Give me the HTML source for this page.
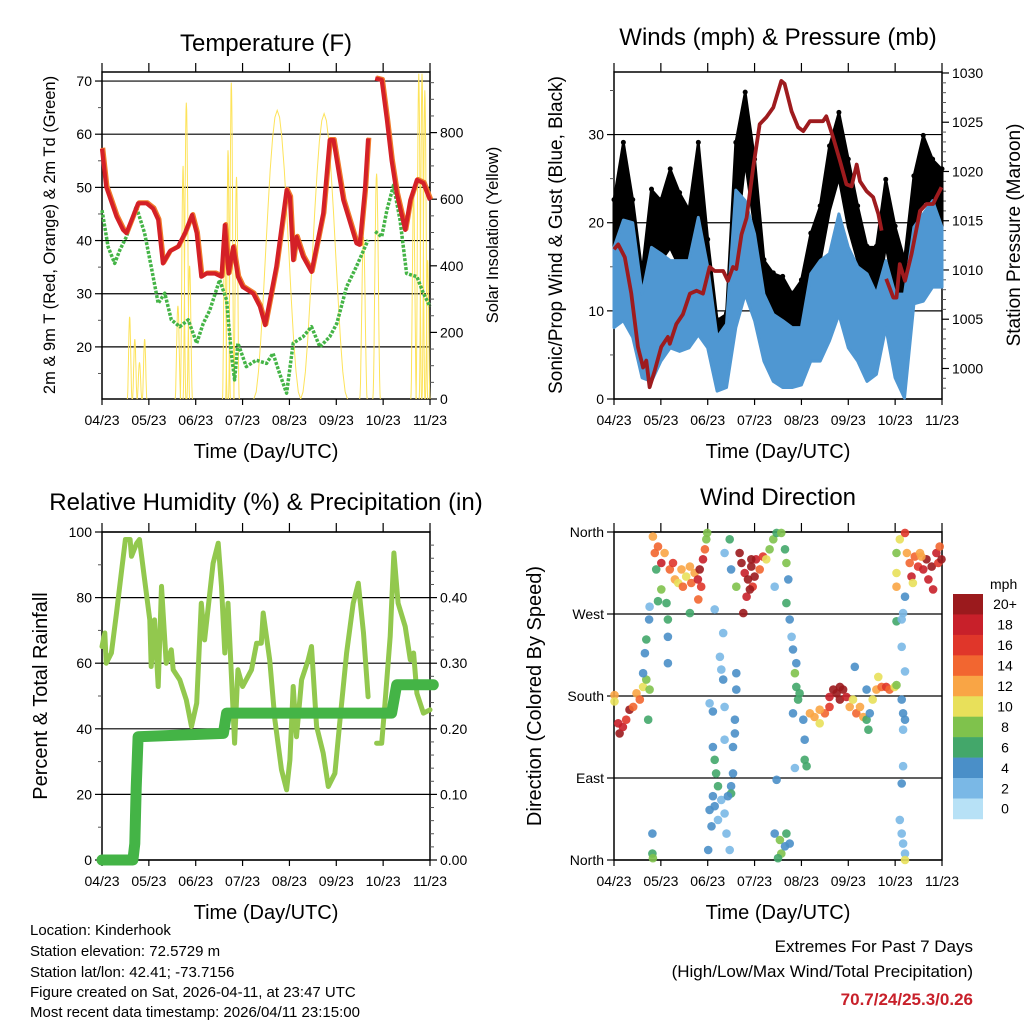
<!DOCTYPE html>
<html><head><meta charset="utf-8">
<style>
body{margin:0;background:#fff;}
svg{display:block;font-family:"Liberation Sans",sans-serif;}
</style></head>
<body>
<svg id="c" width="1024" height="1024" viewBox="0 0 1024 1024" xmlns="http://www.w3.org/2000/svg">
<rect width="1024" height="1024" fill="#fff"/>
<text x="266" y="51" font-size="24" text-anchor="middle">Temperature (F)</text>
<text transform="translate(55,235) rotate(-90)" font-size="16.5" text-anchor="middle">2m &amp; 9m T (Red, Orange) &amp; 2m Td (Green)</text>
<text transform="translate(498,235) rotate(-90)" font-size="16.5" text-anchor="middle">Solar Insolation (Yellow)</text>
<text x="266" y="458" font-size="20" text-anchor="middle">Time (Day/UTC)</text>

<text x="778" y="45" font-size="24" text-anchor="middle">Winds (mph) &amp; Pressure (mb)</text>
<text transform="translate(562,235) rotate(-90)" font-size="19" text-anchor="middle">Sonic/Prop Wind &amp; Gust (Blue, Black)</text>
<text transform="translate(1020,235) rotate(-90)" font-size="19" text-anchor="middle">Station Pressure (Maroon)</text>
<text x="778" y="458" font-size="20" text-anchor="middle">Time (Day/UTC)</text>

<text x="266" y="510" font-size="24" text-anchor="middle">Relative Humidity (%) &amp; Precipitation (in)</text>
<text transform="translate(47,696) rotate(-90)" font-size="20" text-anchor="middle">Percent &amp; Total Rainfall</text>
<text x="266" y="919" font-size="20" text-anchor="middle">Time (Day/UTC)</text>

<text x="778" y="505" font-size="24" text-anchor="middle">Wind Direction</text>
<text transform="translate(541,696) rotate(-90)" font-size="20" text-anchor="middle">Direction (Colored By Speed)</text>
<text x="778" y="919" font-size="20" text-anchor="middle">Time (Day/UTC)</text>

<g font-size="15">
<text x="30" y="935">Location: Kinderhook</text>
<text x="30" y="956">Station elevation: 72.5729 m</text>
<text x="30" y="977">Station lat/lon: 42.41; -73.7156</text>
<text x="30" y="997">Figure created on Sat, 2026-04-11, at 23:47 UTC</text>
<text x="30" y="1017">Most recent data timestamp: 2026/04/11 23:15:00</text>
</g>
<text x="973" y="952" font-size="17" text-anchor="end">Extremes For Past 7 Days</text>
<text x="973" y="977" font-size="17" text-anchor="end">(High/Low/Max Wind/Total Precipitation)</text>
<text x="973" y="1005" font-size="17" font-weight="bold" fill="#c8202a" text-anchor="end">70.7/24/25.3/0.26</text>
<g id="layer"></g>
</svg>
<script>
// ---------- DATA ----------
const monthLabels=["04/23","05/23","06/23","07/23","08/23","09/23","10/23","11/23"];
const tempT=[0,.09,.31,.45,.52,.66,.77,.95,1.09,1.2,1.3,1.45,1.62,1.77,1.92,2.02,2.12,2.23,2.41,2.55,2.62,2.7,2.8,2.9,3.0,3.23,3.37,3.48,3.72,3.94,4.01,4.08,4.15,4.29,4.47,4.72,4.86,4.94,5.15,5.43,5.5,5.61,5.68,null,5.83,5.97,6.08,6.18,6.29,6.47,6.58,6.72,6.86,7];
const tempV=[57.3,50.1,44.5,42,41.4,44.5,47,47,46,43.9,35.7,38,38.8,41.4,44.8,41.4,33.2,33.8,33.8,33.2,42.9,33.8,38.8,33.2,31.3,30,27.6,24.1,35.1,49.5,48.2,36.3,40.7,37,34.1,45.1,58.9,58.9,47.6,39.5,39.2,49.5,59.2,null,70.5,70.2,62.7,55.1,48.9,42,47.6,51.4,50.8,47.6];
const dewT=[0,.13,.27,.38,.52,.73,.91,1.05,1.2,1.34,1.48,1.66,1.84,2.02,2.16,2.3,2.51,2.66,2.76,2.83,2.9,3.08,3.29,3.51,3.65,3.79,3.94,4.08,4.29,4.47,4.65,4.86,5.01,5.22,5.43,5.68,null,5.83,5.97,6.08,6.22,6.36,6.5,6.72,6.86,7];
const dewV=[45.7,38.8,35.7,38.2,40.7,46.4,41.4,35.1,28.2,30.1,25.1,23.8,25.1,20.7,24.4,26.9,32.6,28.8,18.8,13.8,20.7,16.3,17.5,16.9,18.8,15,11.3,20.7,21.9,23.8,20,21.9,24.4,31.3,35.1,40.1,null,41.7,40.7,45.7,50.4,43.9,33.8,33.2,30.1,27.6];
const solarT=[.59,.7,.8,.91,1.62,1.73,1.8,1.87,2.62,2.69,2.76,2.87,3.74,4.74,5.58,5.86,6.65,6.76,6.83,6.89,6.95];
const solarPeak=[247,180,110,180,280,700,890,400,527,747,950,667,867,857,487,677,617,977,977,927,417];
const solarHalfW=[.05,.05,.05,.05,.06,.06,.07,.06,.05,.05,.06,.06,.5,.5,.08,.08,.06,.06,.06,.06,.05];
const presT=[0,.09,.23,.37,.51,.62,.69,.76,.87,1.01,1.15,1.19,1.33,1.47,1.62,1.76,1.9,2.04,2.15,2.33,2.43,2.54,2.61,2.72,2.83,2.97,3.11,3.25,3.4,3.57,3.64,3.79,3.93,4.04,4.18,4.32,4.46,4.53,4.68,4.82,4.96,5.07,5.18,5.25,5.39,5.53,5.64,5.71,null,5.81,5.96,6.03,6.1,6.21,6.35,6.53,6.67,6.81,6.88,6.99];
const presV=[1012.1,1012.6,1011.3,1007.6,1002.2,1000.1,1000.8,998.1,999.8,1002.2,1003.2,1002.5,1004.5,1005.5,1007.6,1007.9,1007.6,1010.3,1009.9,1009.9,1008.9,1010.3,1010.1,1013.6,1015.3,1020.4,1024.8,1025.5,1026.5,1029.2,1028.9,1026.1,1024.5,1024.1,1025.1,1025.1,1025.1,1025.6,1023.4,1021.1,1018.7,1018.5,1020.7,1019,1018,1017.4,1015.7,1014,null,1009.1,1007.2,1007.2,1010.6,1008.9,1011.6,1016,1016.7,1016.7,1017.4,1018.4];
const windT=[0,.2,.4,.6,.8,1,1.2,1.4,1.6,1.8,2,2.2,2.4,2.6,2.8,3,3.2,3.4,3.6,3.8,4,4.2,4.4,4.6,4.8,5,5.2,5.4,5.6,5.8,6,6.2,6.4,6.6,6.8,7];
const gustHigh=[22.5,29,22.5,14.2,23.7,22.5,26,23.3,21.4,29,18,8.9,9.6,29,34.7,27.1,15.7,14.2,13.8,11.9,13.4,18.7,21.8,28.6,32.4,27.1,21.8,17.2,17.2,24.8,19.5,15.7,25.2,29.8,27.1,26];
const gustLow=[11.9,19.5,15.7,9.6,15.7,15.7,17.2,15,13.8,22.2,11.9,4.3,5.1,17.6,27.1,19.5,11.1,9.6,8.9,7.3,8.1,11.9,15.7,21.4,25.2,19.5,15.7,11.9,10.4,17.6,11.9,8.1,18.4,22.5,21.8,19.5];
const windHigh=[17.2,20.3,20,11.9,17.2,16.5,15.7,15.7,15.7,20.6,15,7,8.5,23.7,22.5,18.7,11.9,9.6,8.9,8.1,8.1,14.2,15.7,16.5,21,17.2,15,14.2,11.9,15.7,11.9,11.9,19.5,21,22.5,19.5];
const windLow=[8.1,8.9,7,2.4,2,4.3,5.8,5.4,5.8,7.3,5.8,.9,1.3,8.1,11.9,8.9,4.3,2,1.3,1.3,1.6,4.3,4.3,6.6,9.6,5.8,4.3,2,2.8,8.1,2.4,.1,10.8,11.1,12.7,12.7];
const rhT=[0,.06,.09,.2,.31,.42,.5,.6,.63,.74,.8,.91,1.02,1.05,1.12,1.2,1.27,1.37,1.48,1.52,1.66,1.8,1.91,2.02,2.12,2.19,2.37,2.48,2.55,2.62,2.69,2.83,2.9,3.0,3.19,3.3,3.4,3.44,3.58,3.69,3.83,3.94,4.01,4.08,4.15,4.26,4.4,4.47,4.58,4.72,4.83,4.97,5.08,5.22,5.36,5.47,5.58,5.68,null,5.86,5.97,6.04,6.15,6.23,6.32,6.47,6.58,6.65,6.72,6.86,7];
const rhV=[65.1,69.2,60,63.1,75.3,88.5,97.7,97.7,92.6,96.6,97.7,85.5,73.2,59,73.2,52.9,83.4,60,64.1,58,54.9,48.8,40.7,47.8,78.3,67.1,90.5,96.6,83.4,63.1,78.3,35.6,58,52.9,58,66.1,66.1,75.3,61,42.7,27.5,21.4,30.5,52.9,37.6,54.9,61,65.1,40.7,32.6,22.4,26.4,42.7,63.1,78.3,84.4,69.2,49.8,null,35.6,35.6,47.8,68.2,93.6,78.3,71.2,61,63.1,50.8,44.8,45.8];
const precipT=[0,.66,.7,.73,.77,2.59,2.66,5.72,6.18,6.29,7.07];
const precipV=[0,0,.025,.11,.188,.193,.224,.224,.224,.267,.267];
const dirT=[.01,.01,.09,.12,.19,.26,.33,.41,.48,.55,.62,.69,.73,.62,.66,.69,.75,.76,.83,.87,.9,.94,1.01,1.08,1.12,1.15,1.19,1.26,1.3,1.37,1.44,1.47,1.54,1.62,1.65,1.72,1.8,1.79,1.83,1.86,1.9,1.94,1.97,1.99,1.15,1.15,.76,.94,1.01,1.62,.82,.82,.83,2.04,2.11,2.11,2.15,2.18,2.22,2.11,2.04,2.08,2.01,2.15,2.22,2.29,2.33,2.33,2.26,2.36,2.36,2.29,2.36,2.4,2.47,2.5,2.54,2.54,2.58,2.58,2.61,2.61,2.5,2.43,2.36,2.47,2.5,2.15,2.61,2.68,2.72,2.79,2.86,2.93,2.96,3.03,3.11,3.18,2.83,2.76,3.25,3.32,3.4,3.47,2.9,3,2.93,3.43,3.47,3.43,3.54,3.57,3.5,3.65,3.68,3.75,3.57,3.65,3.68,3.72,3.68,3.75,3.79,3.82,3.89,3.86,3.89,3.96,3.93,4.04,4.07,4.07,3.86,3.82,4.11,4.18,4.28,4.39,4.5,4.6,4.68,4.75,4.82,4.89,4.96,5.03,5.1,5.17,5.25,5.32,5.39,5.43,5.46,5.52,5.6,5.64,5.71,5.81,5.88,5.99,6.03,5.14,5.39,4.6,4.82,4.39,6.14,6.17,6.21,6.17,6.17,6.14,6.1,6.14,6.17,6.21,6.21,6.14,6.17,6.21,6.03,6.14,6.21,6.03,6.03,6.03,6.1,6.21,6.25,6.31,6.35,6.42,6.49,6.53,6.6,6.67,6.71,6.78,6.81,6.88,6.92,6.95,6.99,6.56,6.38];
const dirV=[181,174,150,139,146,154,165,168,183,176,190,198,154,205,227,242,264,187,355,337,319,344,326,337,282,264,319,326,308,304,319,300,311,322,304,315,286,308,319,300,330,341,352,359,245,216,278,284,297,271,29,7,2,172,163,124,110,95,81,70,55,37,11,59,44,209,198,249,223,168,132,66,51,29,11,81,95,124,139,154,187,205,73,70,337,352,319,275,300,337,326,315,308,322,300,330,319,333,289,271,330,341,352,359,297,311,330,300,88,29,22,7,2,15,29,18,359,341,326,308,282,264,245,231,216,205,190,183,176,154,132,110,101,161,103,161,157,150,161,179,187,183,176,187,179,168,176,161,168,157,154,143,161,176,187,201,190,190,187,190,192,212,187,168,190,165,176,161,154,143,103,84,44,29,18,7,0,234,271,289,262,264,207,337,315,300,352,359,337,326,311,333,322,337,319,330,308,322,297,337,326,344,330,333,304];
const dirSpd=[12,10,18,20,18,16,20,14,12,14,10,8,6,4,4,6,4,8,12,14,6,14,18,12,6,6,14,16,12,10,12,14,10,12,14,12,14,18,20,16,18,14,8,8,4,4,2,6,8,6,4,6,8,2,4,4,6,6,6,4,4,4,4,4,2,2,4,2,2,2,2,2,2,2,2,4,4,4,4,4,4,4,6,4,2,6,4,2,8,20,20,18,20,20,16,18,14,16,18,20,10,8,8,6,20,20,20,2,4,4,8,8,6,4,6,4,8,6,8,4,6,4,2,4,4,8,6,6,6,4,4,6,2,4,6,12,12,10,14,18,20,20,20,20,18,12,10,14,12,12,6,6,4,10,12,10,14,16,14,10,8,4,4,16,20,12,4,4,4,2,2,4,2,2,2,2,10,2,2,4,6,2,2,8,10,12,10,16,12,14,18,14,16,12,18,20,18,20,18,18,16,14,20,12,10];
const speedColors=["#b7e1f6","#7ab8e6","#4a8fc8","#43a76a","#7fc24c","#e8e05a","#f9a545","#f26630","#e0362a","#c8202a","#9b1a1d"];
const speedLabels=["0","2","4","6","8","10","12","14","16","18","20+"];

// ---------- DRAW ----------
const NS="http://www.w3.org/2000/svg";
const layer=document.getElementById('layer');
function mk(tag,attrs,parent){const e=document.createElementNS(NS,tag);for(const k in attrs)e.setAttribute(k,attrs[k]);(parent||layer).appendChild(e);return e;}
function linScale(d0,d1,r0,r1){return v=>r0+(v-d0)*(r1-r0)/(d1-d0);}
function pathFrom(ts,vs,sx,sy){let d="",pen=false;for(let i=0;i<ts.length;i++){if(ts[i]===null||vs[i]===null){pen=false;continue;}d+=(pen?"L":"M")+sx(ts[i]).toFixed(1)+","+sy(vs[i]).toFixed(1);pen=true;}return d;}

function frame(L,R,T,B,name){
  const g=mk('g',{});
  
  
  mk('rect',{x:L,y:T,width:R-L,height:B-T,fill:'none',stroke:'#000','stroke-width':1.5},g);
  const sx=linScale(0,7,L,R);
  for(let i=0;i<monthLabels.length;i++){
    const x=sx(i);
    mk('line',{x1:x,y1:B,x2:x,y2:B+6,stroke:'#000','stroke-width':1.2},g);
    mk('line',{x1:x,y1:T,x2:x,y2:T-9,stroke:'#000','stroke-width':1.2},g);
    const t=mk('text',{x:x,y:B+26,'font-size':14,'text-anchor':'middle'},g);
    t.textContent=monthLabels[i];
    
    
  }
  return sx;
}
function yTicks(vals,labels,sy,L,R,side,grid,minor,name){
  const g=mk('g',{});
  
  
  vals.forEach((v,i)=>{
    const y=sy(v);
    if(grid) mk('line',{x1:L,y1:y,x2:R,y2:y,stroke:'#000','stroke-width':1.2},g);
    if(side==='left'){mk('line',{x1:L-7,y1:y,x2:L,y2:y,stroke:'#000','stroke-width':1.2},g);
      const t=mk('text',{x:L-10,y:y+5,'font-size':14,'text-anchor':'end'},g);t.textContent=labels[i];}
    else{mk('line',{x1:R,y1:y,x2:R+7,y2:y,stroke:'#000','stroke-width':1.2},g);
      const t=mk('text',{x:R+10,y:y+5,'font-size':14,'text-anchor':'start'},g);t.textContent=labels[i];}
  });
  (minor||[]).forEach(v=>{const y=sy(v);
    if(side==='left') mk('line',{x1:L-4,y1:y,x2:L,y2:y,stroke:'#555','stroke-width':1},g);
    else mk('line',{x1:R,y1:y,x2:R+4,y2:y,stroke:'#555','stroke-width':1},g);});
}

// Panel 1 temperature
(function(){
  const L=102,R=430,T=72,B=399;
  const sx=frame(L,R,T,B,'temperature');
  const sy=linScale(10.2,71.7,B,T);
  const ss=linScale(0,982,B,T);
  yTicks([20,30,40,50,60,70],["20","30","40","50","60","70"],sy,L,R,'left',true,[15,25,35,45,55,65],'temperature-y-axis');
  yTicks([0,200,400,600,800],["0","200","400","600","800"],ss,L,R,'right',false,[50,100,150,250,300,350,450,500,550,650,700,750,850,900,950],'solar-y-axis');
  const sol=mk('g',{});
  
  
  for(let i=0;i<solarT.length;i++){
    let d="";const w=solarHalfW[i];
    for(let k=0;k<=20;k++){const u=-1+k/10;const tt=solarT[i]+u*w;const v=solarPeak[i]*Math.pow(Math.cos(u*Math.PI/2),2);
      d+=(k?"L":"M")+sx(Math.min(7,Math.max(0,tt))).toFixed(1)+","+ss(v).toFixed(1);}
    const p=mk('path',{d:d,fill:'none',stroke:'#fde35a','stroke-width':1},sol);
    
    
  }
  const dew=mk('g',{});
  
  
  mk('path',{d:pathFrom(dewT,dewV,sx,sy),fill:'none',stroke:'#44b446','stroke-width':3.5,'stroke-dasharray':'3 1.5','stroke-linejoin':'round'},dew);
  const o=mk('path',{d:pathFrom(tempT,tempV,sx,sy),fill:'none',stroke:'#f07a2a','stroke-width':4.5,'stroke-linejoin':'round',transform:'translate(1,-0.8)'});
  
  
  const r=mk('path',{d:pathFrom(tempT,tempV,sx,sy),fill:'none',stroke:'#d42027','stroke-width':4.2,'stroke-linejoin':'round'});
  
  
})();

// Panel 2 winds
(function(){
  const L=614,R=942,T=72,B=399;
  const sx=frame(L,R,T,B,'winds');
  const sy=linScale(0,37.1,B,T);
  const sp=linScale(996.9,1030.1,B,T);
  yTicks([0,10,20,30],["0","10","20","30"],sy,L,R,'left',true,[5,15,25,35],'wind-y-axis');
  const mn=[];for(let p=998;p<=1030;p++)if(p%5)mn.push(p);
  yTicks([1000,1005,1010,1015,1020,1025,1030],["1000","1005","1010","1015","1020","1025","1030"],sp,L,R,'right',false,mn,'pressure-y-axis');
  function band(hi,lo,fill,name){
    let d="M"+sx(windT[0])+","+sy(hi[0]);
    for(let i=1;i<windT.length;i++)d+="L"+sx(windT[i]).toFixed(1)+","+sy(hi[i]).toFixed(1);
    for(let i=windT.length-1;i>=0;i--)d+="L"+sx(windT[i]).toFixed(1)+","+sy(lo[i]).toFixed(1);
    const p=mk('path',{d:d+"Z",fill:fill,stroke:fill,'stroke-width':3,'stroke-linejoin':'round'});
    
    
  }
  band(gustHigh,gustLow,'#000','gust-band');
  const gd=mk('g',{});
  
  
  for(let i=0;i<windT.length;i++){mk('circle',{cx:sx(windT[i]),cy:sy(gustHigh[i])-1,r:2.5,fill:'#000'},gd);}
  band(windHigh,windLow,'#4f97d2','wind-band');
  const p=mk('path',{d:pathFrom(presT,presV,sx,sp),fill:'none',stroke:'#9e1b1e','stroke-width':3.8,'stroke-linejoin':'round'});
  
  
})();

// Panel 3 humidity
(function(){
  const L=102,R=430,T=532,B=860;
  const sx=frame(L,R,T,B,'humidity');
  const sy=linScale(0,100,B,T);
  const sr=linScale(0,0.5,B,T);
  yTicks([0,20,40,60,80,100],["0","20","40","60","80","100"],sy,L,R,'left',true,[10,30,50,70,90],'humidity-y-axis');
  const mn=[];for(let k=1;k<25;k++)if(k%5)mn.push(k*0.02);
  yTicks([0,0.1,0.2,0.3,0.4],["0.00","0.10","0.20","0.30","0.40"],sr,L,R,'right',false,mn,'precip-y-axis');
  const h=mk('path',{d:pathFrom(rhT,rhV,sx,sy),fill:'none',stroke:'#92c84e','stroke-width':5,'stroke-linejoin':'round','stroke-linecap':'round'});
  
  
  const p=mk('path',{d:pathFrom(precipT,precipV,sx,sr),fill:'none',stroke:'#44b446','stroke-width':11,'stroke-linejoin':'round','stroke-linecap':'round'});
  
  
})();

// Panel 4 direction
(function(){
  const L=614,R=942,T=532,B=860;
  const sx=frame(L,R,T,B,'direction');
  const sy=linScale(0,360,B,T);
  yTicks([0,90,180,270,360],["North","East","South","West","North"],sy,L,R,'left',true,[],'direction-y-axis');
  const g=mk('g',{});
  
  
  for(let i=0;i<dirT.length;i++){
    const bin=Math.min(10,Math.max(0,Math.floor(dirSpd[i]/2)));
    const c=mk('circle',{cx:sx(dirT[i]).toFixed(1),cy:sy(dirV[i]).toFixed(1),r:4.3,fill:speedColors[bin],'fill-opacity':0.9},g);
    
    
  }
  const cb=mk('g',{});
  
  
  const t=mk('text',{x:990,y:589,'font-size':14},cb);t.textContent='mph';
  const top=594,h=20.45;
  for(let k=0;k<11;k++){
    const idx=10-k;const y=top+k*h;
    const r=mk('rect',{x:953,y:y,width:30,height:h+0.3,fill:speedColors[idx]},cb);
    
    
    const tx=mk('text',{x:1005,y:y+h/2+5,'font-size':14,'text-anchor':'middle'},cb);tx.textContent=speedLabels[idx];
    
    
  }
})();
</script>
</body></html>
